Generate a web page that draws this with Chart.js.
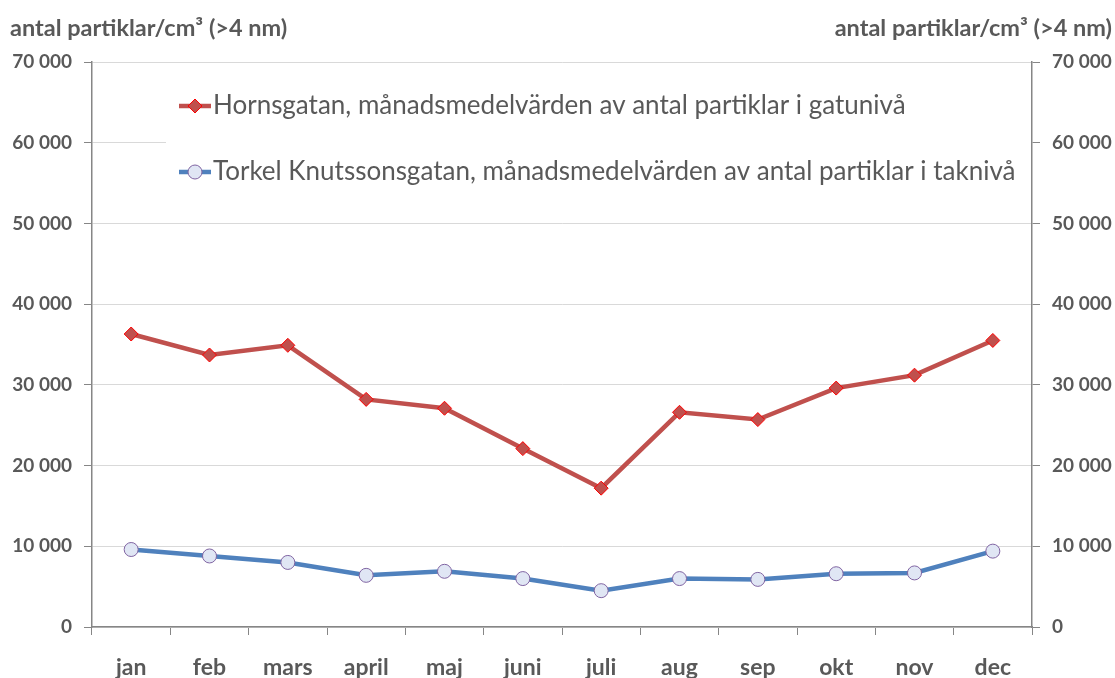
<!DOCTYPE html>
<html>
<head>
<meta charset="utf-8">
<script src="https://cdn.jsdelivr.net/npm/chart.js@4"></script>
<style>
  html, body { margin: 0; padding: 0; background: #fff; }
  #wrap { width: 1115px; height: 678px; position: relative; }
</style>
</head>
<body>
<div id="wrap"><canvas id="myChart" width="1115" height="678"></canvas></div>
<script>
// months on the x axis
const months = ['jan', 'feb', 'mars', 'april', 'maj', 'juni', 'juli', 'aug', 'sep', 'okt', 'nov', 'dec'];

// monthly means, particles/cm3 (>4 nm)
const hornsgatan = [36300, 33700, 34900, 28200, 27100, 22100, 17200, 26600, 25700, 29600, 31200, 35500];
const torkel = [9600, 8800, 8000, 6400, 6900, 6000, 4500, 6000, 5900, 6600, 6700, 9400];

const seriesNames = [
    'Hornsgatan, månadsmedelvärden av antal partiklar i gatunivå',
    'Torkel Knutssonsgatan, månadsmedelvärden av antal partiklar i taknivå'
];
const axisTitle = 'antal partiklar/cm³ (>4 nm)';

const FONT = 'Lato, "Open Sans", sans-serif';
const TEXT = '#595959';

function fmt(v) {
    // 70000 -> "70 000"
    return v.toString().replace(/\B(?=(\d{3})+(?!\d))/g, ' ');
}

// draws the two axis titles and the legend box inside the plot area
const extras = {
    id: 'extras',
    afterDraw(chart) {
        const ctx = chart.ctx;
        const area = chart.chartArea;
        ctx.save();

        // axis titles above the axes
        ctx.fillStyle = TEXT;
        ctx.font = 'bold 23.5px ' + FONT;
        ctx.textBaseline = 'middle';
        ctx.textAlign = 'left';
        ctx.fillText(axisTitle, 10, 28);
        ctx.textAlign = 'right';
        ctx.fillText(axisTitle, 1112, 28);

        // white legend box hides the gridline behind it
        ctx.fillStyle = '#fff';
        ctx.fillRect(166, 84, area.right - 166 - 1, 118);

        ctx.font = '26px ' + FONT;
        ctx.textAlign = 'left';
        const rows = [106, 172];
        chart.data.datasets.forEach((ds, i) => {
            const y = rows[i];
            ctx.strokeStyle = ds.borderColor;
            ctx.lineWidth = 4.5;
            ctx.beginPath();
            ctx.moveTo(179, y);
            ctx.lineTo(211, y);
            ctx.stroke();
            ctx.fillStyle = ds.pointBackgroundColor;
            ctx.strokeStyle = ds.pointBorderColor;
            ctx.lineWidth = 1;
            ctx.beginPath();
            if (ds.pointStyle === 'rectRot') {
                ctx.moveTo(195, y - 7);
                ctx.lineTo(202, y);
                ctx.lineTo(195, y + 7);
                ctx.lineTo(188, y);
                ctx.closePath();
            } else {
                ctx.arc(195, y, 7, 0, Math.PI * 2);
            }
            ctx.fill();
            ctx.stroke();
            ctx.fillStyle = TEXT;
            ctx.fillText(ds.label, 213, y);
        });
        ctx.restore();
    }
};

const tickFont = { family: FONT, size: 19, weight: 'bold' };

new Chart(document.getElementById('myChart'), {
    type: 'line',
    data: {
        labels: months,
        datasets: [{
            label: seriesNames[0],
            data: hornsgatan,
            borderColor: '#c0504d',
            borderWidth: 4.5,
            pointStyle: 'rectRot',
            pointRadius: 7,
            pointBackgroundColor: '#c0504d',
            pointBorderColor: '#ff0000',
            pointBorderWidth: 1,
            tension: 0
        }, {
            label: seriesNames[1],
            data: torkel,
            borderColor: '#4f81bd',
            borderWidth: 4.5,
            pointStyle: 'circle',
            pointRadius: 7,
            pointBackgroundColor: '#e0e6f4',
            pointBorderColor: '#8064a2',
            pointBorderWidth: 1,
            tension: 0
        }]
    },
    options: {
        responsive: false,
        animation: false,
        devicePixelRatio: 1,
        layout: { padding: { top: 62, left: 0, right: 0, bottom: 0 } },
        plugins: {
            legend: { display: false },
            tooltip: { enabled: false }
        },
        scales: {
            x: {
                offset: true,
                afterFit: s => { s.height = 51; },
                grid: { offset: true, drawOnChartArea: false, color: '#868686', tickLength: 8 },
                border: { color: '#868686', width: 1.5 },
                ticks: { color: TEXT, font: { family: FONT, size: 23, weight: 'bold' }, padding: 19 }
            },
            y: {
                position: 'left',
                min: 0,
                max: 70000,
                afterFit: s => { s.width = 92; },
                grid: { color: '#d9d9d9', tickColor: '#868686', tickLength: 8 },
                border: { color: '#868686', width: 1.5 },
                ticks: { stepSize: 10000, color: TEXT, font: tickFont, padding: 12, callback: fmt }
            },
            y1: {
                position: 'right',
                min: 0,
                max: 70000,
                afterFit: s => { s.width = 83; },
                grid: { drawOnChartArea: false, color: '#868686', tickLength: 8 },
                border: { color: '#868686', width: 1.5 },
                ticks: { stepSize: 10000, color: TEXT, font: tickFont, padding: 12, callback: fmt }
            }
        }
    },
    plugins: [extras]
});
</script>
</body>
</html>
